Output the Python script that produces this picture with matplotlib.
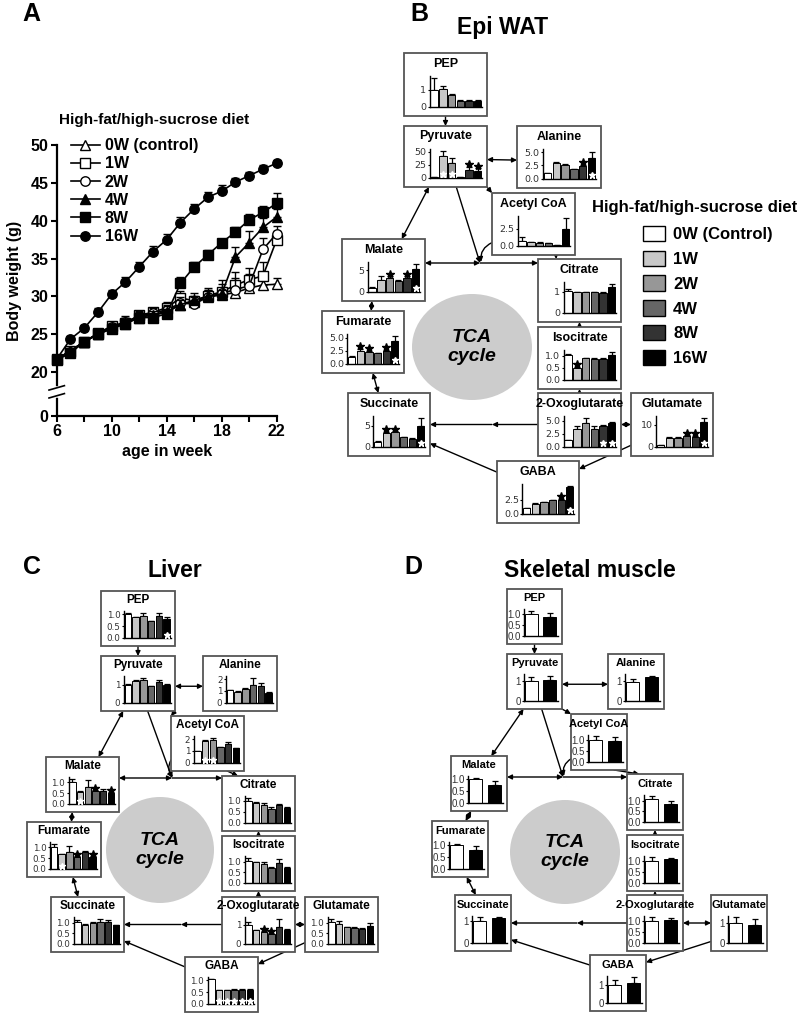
import numpy as np
import matplotlib.pyplot as plt
from matplotlib.patches import Rectangle, Ellipse, FancyArrowPatch, Patch

plt.rcParams['font.family'] = ['Liberation Sans', 'DejaVu Sans']

# ---------------- Panel A: body weight ----------------
weeks = [6, 7, 8, 9, 10, 11, 12, 13, 14, 15, 16, 17, 18, 19, 20, 21, 22]
group_labels = ['0W (control)', '1W', '2W', '4W', '8W', '16W']

bw_0w = [21.7, 22.8, 24.0, 25.0, 25.8, 26.4, 27.2, 27.6, 28.0, 28.9, 29.3, 29.9, 30.2, 30.5, 31.1, 31.5, 31.6]
bw_1w = [21.7, 22.8, 24.0, 25.1, 26.1, 26.5, 27.5, 27.9, 28.5, 29.8, 29.4, 30.1, 30.6, 31.5, 32.2, 32.7, 37.5]
bw_2w = [21.7, 22.7, 24.0, 25.1, 26.0, 26.6, 27.4, 27.8, 28.2, 29.1, 29.0, 29.9, 30.4, 30.9, 31.4, 36.2, 38.3]
bw_4w = [21.7, 22.8, 24.0, 25.0, 25.9, 26.6, 27.3, 27.5, 27.9, 28.9, 29.5, 30.0, 30.3, 35.2, 37.1, 39.1, 40.5]
bw_8w = [21.6, 22.5, 24.0, 25.0, 25.7, 26.4, 27.2, 27.2, 27.7, 31.7, 33.9, 35.5, 37.1, 38.5, 40.1, 41.1, 42.3]
bw_16w = [21.7, 24.35, 25.8, 27.9, 30.3, 31.9, 33.9, 35.9, 37.5, 39.75, 41.55, 43.1, 43.9, 45.1, 45.95, 46.8, 47.6]

err_0w = [0.3, 0.4, 0.4, 0.4, 0.5, 0.5, 0.5, 0.6, 0.6, 0.6, 0.6, 0.6, 0.6, 0.6, 0.7, 0.7, 0.8]
err_1w = [0.3, 0.4, 0.4, 0.5, 0.5, 0.6, 0.6, 0.6, 0.8, 0.9, 1.0, 1.0, 1.5, 1.7, 1.6, 1.8, 1.2]
err_2w = [0.3, 0.4, 0.4, 0.4, 0.5, 0.5, 0.6, 0.6, 0.7, 0.8, 0.9, 1.0, 1.2, 1.5, 1.5, 1.5, 1.0]
err_4w = [0.3, 0.4, 0.4, 0.4, 0.5, 0.8, 0.6, 0.6, 0.8, 0.6, 0.6, 0.8, 0.6, 1.3, 1.5, 1.2, 1.0]
err_8w = [0.3, 0.3, 0.4, 0.4, 0.4, 0.5, 0.5, 0.5, 0.6, 0.8, 0.6, 0.6, 0.5, 0.6, 0.8, 0.9, 1.3]
err_16w = [0.3, 0.4, 0.4, 0.5, 0.5, 0.6, 0.7, 0.7, 0.7, 0.8, 0.7, 0.7, 0.8, 0.6, 0.5, 0.5, 0.4]

# ---------------- Panels B-D: metabolites ----------------
METS = ['PEP', 'Pyruvate', 'Alanine', 'Acetyl CoA', 'Malate', 'Citrate', 'Fumarate',
        'Isocitrate', 'Succinate', '2-Oxoglutarate', 'Glutamate', 'GABA']
diet_labels = ['0W (Control)', '1W', '2W', '4W', '8W', '16W']

# Epi WAT (6 groups)
WAT_MEAN = {
    'PEP': [1.0, 1.05, 0.7, 0.35, 0.35, 0.35],
    'Pyruvate': [1, 41, 29, 2, 15, 14],
    'Alanine': [1.0, 3.0, 2.6, 1.8, 2.4, 3.9],
    'Acetyl CoA': [0.75, 0.5, 0.45, 0.4, 0.1, 2.5],
    'Malate': [0.8, 2.8, 3.3, 2.6, 3.3, 5.4],
    'Citrate': [1.05, 0.97, 0.98, 0.97, 0.95, 1.22],
    'Fumarate': [1.3, 2.5, 2.3, 2.0, 2.5, 4.4],
    'Isocitrate': [1.05, 0.5, 0.9, 0.87, 0.88, 1.05],
    'Succinate': [1.2, 3.2, 3.4, 2.3, 1.9, 5.0],
    '2-Oxoglutarate': [1.2, 3.4, 4.5, 3.4, 4.0, 4.5],
    'Glutamate': [0.8, 4.0, 4.0, 4.8, 4.4, 11.4],
    'GABA': [1.0, 1.8, 2.1, 2.4, 2.5, 4.9],
}
WAT_ERR = {
    'PEP': [0.7, 0.15, 0.05, 0.03, 0.03, 0.03],
    'Pyruvate': [0.5, 10, 9, 0.5, 6, 4],
    'Alanine': [0.1, 0.15, 0.1, 0.05, 0.2, 1.1],
    'Acetyl CoA': [0.5, 0.1, 0.1, 0.05, 0.02, 1.6],
    'Malate': [0.4, 0.8, 0.3, 0.2, 0.3, 1.2],
    'Citrate': [0.06, 0.03, 0.03, 0.03, 0.03, 0.15],
    'Fumarate': [0.1, 0.3, 0.15, 0.1, 0.15, 1.0],
    'Isocitrate': [0.05, 0.05, 0.03, 0.03, 0.03, 0.13],
    'Succinate': [0.1, 0.3, 0.3, 0.1, 0.1, 1.9],
    '2-Oxoglutarate': [0.1, 0.6, 1.0, 0.5, 0.2, 0.2],
    'Glutamate': [0.1, 0.4, 0.4, 0.4, 0.4, 1.8],
    'GABA': [0.1, 0.15, 0.1, 0.1, 0.2, 0.2],
}
WAT_TICKS = {
    'PEP': [0, 1], 'Pyruvate': [0, 25, 50], 'Alanine': [0, 2.5, 5], 'Acetyl CoA': [0, 2.5],
    'Malate': [0, 5], 'Citrate': [0, 1], 'Fumarate': [0, 2.5, 5], 'Isocitrate': [0, 0.5, 1],
    'Succinate': [0, 5], '2-Oxoglutarate': [0, 2.5, 5], 'Glutamate': [0, 10], 'GABA': [0, 2.5],
}
WAT_STAR = {'Pyruvate': [4, 5], 'Alanine': [4], 'Malate': [2, 4], 'Fumarate': [1, 2, 4],
            'Isocitrate': [1], 'Succinate': [1, 2], 'Glutamate': [3, 4], 'GABA': [4]}
WAT_WSTAR = {'Pyruvate': [1, 2], 'Alanine': [5], 'Malate': [5], 'Fumarate': [5], 'Succinate': [5],
             '2-Oxoglutarate': [4, 5], 'Glutamate': [5], 'GABA': [5]}

# Liver (6 groups)
LIV_MEAN = {
    'PEP': [1.0, 0.88, 0.95, 0.7, 0.95, 0.82],
    'Pyruvate': [0.95, 1.2, 1.27, 0.9, 1.13, 0.98],
    'Alanine': [1.05, 0.95, 1.15, 1.5, 1.45, 0.85],
    'Acetyl CoA': [1.0, 1.85, 1.9, 1.3, 1.55, 1.25],
    'Malate': [1.02, 0.55, 0.8, 0.6, 0.62, 0.5],
    'Citrate': [1.0, 0.9, 0.82, 0.65, 0.8, 0.68],
    'Fumarate': [1.02, 0.68, 0.8, 0.55, 0.78, 0.55],
    'Isocitrate': [1.03, 0.97, 0.88, 0.7, 0.92, 0.72],
    'Succinate': [1.05, 0.9, 1.0, 1.05, 1.05, 0.88],
    '2-Oxoglutarate': [1.0, 0.7, 0.61, 0.53, 0.88, 0.7],
    'Glutamate': [1.03, 0.95, 0.79, 0.75, 0.71, 0.87],
    'GABA': [1.04, 0.57, 0.57, 0.58, 0.58, 0.6],
}
LIV_ERR = {
    'PEP': [0.05, 0.03, 0.12, 0.03, 0.12, 0.05],
    'Pyruvate': [0.1, 0.05, 0.1, 0.03, 0.1, 0.03],
    'Alanine': [0.05, 0.03, 0.12, 0.6, 0.25, 0.03],
    'Acetyl CoA': [0.03, 0.05, 0.2, 0.05, 0.25, 0.03],
    'Malate': [0.15, 0.05, 0.3, 0.05, 0.05, 0.05],
    'Citrate': [0.14, 0.03, 0.1, 0.05, 0.08, 0.02],
    'Fumarate': [0.15, 0.03, 0.25, 0.05, 0.05, 0.05],
    'Isocitrate': [0.15, 0.02, 0.08, 0.04, 0.2, 0.02],
    'Succinate': [0.1, 0.03, 0.05, 0.15, 0.08, 0.02],
    '2-Oxoglutarate': [0.14, 0.03, 0.05, 0.03, 0.42, 0.05],
    'Glutamate': [0.16, 0.13, 0.03, 0.03, 0.03, 0.12],
    'GABA': [0.02, 0.03, 0.03, 0.03, 0.03, 0.04],
}
LIV_TICKS = {
    'PEP': [0, 0.5, 1], 'Pyruvate': [0, 1], 'Alanine': [0, 1, 2], 'Acetyl CoA': [0, 1, 2],
    'Malate': [0, 0.5, 1], 'Citrate': [0, 0.5, 1], 'Fumarate': [0, 0.5, 1], 'Isocitrate': [0, 0.5, 1],
    'Succinate': [0, 0.5, 1], '2-Oxoglutarate': [0, 1], 'Glutamate': [0, 0.5, 1], 'GABA': [0, 0.5, 1],
}
LIV_STAR = {'Malate': [3, 5], 'Fumarate': [3, 5], '2-Oxoglutarate': [2, 3]}
LIV_WSTAR = {'PEP': [5], 'Acetyl CoA': [1, 2], 'Malate': [1], 'Fumarate': [1], 'GABA': [1, 2, 3, 4, 5]}

# Skeletal muscle (0W vs 16W)
MUS_MEAN = {
    'PEP': [1.0, 0.9], 'Pyruvate': [1.0, 1.05], 'Alanine': [0.97, 1.22], 'Acetyl CoA': [1.0, 0.95],
    'Malate': [1.02, 0.75], 'Citrate': [1.07, 0.87], 'Fumarate': [1.0, 0.76], 'Isocitrate': [1.0, 1.05],
    'Succinate': [1.0, 1.15], '2-Oxoglutarate': [1.0, 1.03], 'Glutamate': [0.97, 0.88], 'GABA': [1.0, 1.15],
}
MUS_ERR = {
    'PEP': [0.17, 0.15], 'Pyruvate': [0.18, 0.2], 'Alanine': [0.12, 0.05], 'Acetyl CoA': [0.16, 0.18],
    'Malate': [0.02, 0.16], 'Citrate': [0.15, 0.1], 'Fumarate': [0.03, 0.17], 'Isocitrate': [0.15, 0.08],
    'Succinate': [0.2, 0.05], '2-Oxoglutarate': [0.17, 0.12], 'Glutamate': [0.3, 0.3], 'GABA': [0.33, 0.32],
}
MUS_TICKS = {
    'PEP': [0, 0.5, 1], 'Pyruvate': [0, 1], 'Alanine': [0, 1], 'Acetyl CoA': [0, 0.5, 1],
    'Malate': [0, 0.5, 1], 'Citrate': [0, 0.5, 1], 'Fumarate': [0, 0.5, 1], 'Isocitrate': [0, 0.5, 1],
    'Succinate': [0, 1], '2-Oxoglutarate': [0, 0.5, 1], 'Glutamate': [0, 1], 'GABA': [0, 1],
}

GRAYS6 = ['white', '#c8c8c8', '#979797', '#666666', '#333333', 'black']
GRAYS2 = ['white', 'black']

# ---------------- layout (pixel boxes) ----------------
W, H = 800, 1013
BOX_B = {
    'PEP': (404, 53, 487, 116), 'Pyruvate': (404, 126, 487, 187), 'Alanine': (517, 126, 601, 188),
    'Acetyl CoA': (492, 193, 575, 255), 'Malate': (342, 239, 425, 301), 'Citrate': (538, 259, 621, 322),
    'Fumarate': (322, 311, 404, 373), 'Isocitrate': (538, 327, 621, 389), 'Succinate': (348, 393, 430, 456),
    '2-Oxoglutarate': (538, 393, 621, 456), 'Glutamate': (631, 393, 713, 456), 'GABA': (497, 461, 579, 523),
}
BOX_C = {
    'PEP': (101, 591, 175, 646), 'Pyruvate': (101, 656, 175, 711), 'Alanine': (203, 656, 277, 711),
    'Acetyl CoA': (171, 716, 244, 771), 'Malate': (46, 757, 119, 812), 'Citrate': (222, 776, 295, 831),
    'Fumarate': (27, 822, 101, 877), 'Isocitrate': (222, 836, 295, 891), 'Succinate': (51, 897, 124, 952),
    '2-Oxoglutarate': (222, 897, 295, 952), 'Glutamate': (305, 897, 378, 952), 'GABA': (185, 957, 258, 1012),
}
BOX_D = {
    'PEP': (507, 589, 562, 644), 'Pyruvate': (507, 654, 562, 709), 'Alanine': (608, 654, 664, 709),
    'Acetyl CoA': (571, 714, 627, 770), 'Malate': (451, 756, 507, 811), 'Citrate': (627, 774, 683, 830),
    'Fumarate': (432, 821, 488, 877), 'Isocitrate': (627, 835, 683, 891), 'Succinate': (455, 895, 511, 951),
    '2-Oxoglutarate': (627, 895, 683, 951), 'Glutamate': (711, 895, 767, 951), 'GABA': (590, 955, 646, 1011),
}

# arrows between boxes: (from, fx, fy, to, fx, fy, double-headed)
LINKS = [
    ('PEP', .5, 1, 'Pyruvate', .5, 0, False),
    ('Pyruvate', 1, .55, 'Alanine', 0, .55, True),
    ('Pyruvate', 1, 1, 'Acetyl CoA', 0, 0, False),
    ('Pyruvate', .3, 1, 'Malate', .72, 0, True),
    ('Malate', .36, 1, 'Fumarate', .6, 0, True),
    ('Fumarate', .62, 1, 'Succinate', .37, 0, True),
    ('Acetyl CoA', .77, 1, 'Citrate', .22, 0, False),
    ('Isocitrate', .5, 0, 'Citrate', .5, 1, False),
    ('2-Oxoglutarate', .5, 0, 'Isocitrate', .5, 1, False),
    ('Glutamate', 0, .5, '2-Oxoglutarate', 1, .5, True),
    ('Glutamate', 0, .83, 'GABA', 1, .13, False),
    ('GABA', 0, .18, 'Succinate', 1, .8, False),
]

fig = plt.figure(figsize=(W / 100, H / 100), dpi=100)


def px(x0, y0, x1, y1):
    return [x0 / W, 1 - y1 / H, (x1 - x0) / W, (y1 - y0) / H]


ov = fig.add_axes([0, 0, 1, 1])
ov.set_xlim(0, W)
ov.set_ylim(H, 0)
ov.axis('off')

# ---------------- Panel A ----------------
axA = fig.add_axes(px(56.7, 145, 276.7, 416))


def fwd(y):
    y = np.asarray(y, float)
    return np.where(y >= 20, y, 14.19 + y * 0.2905)


def inv(z):
    z = np.asarray(z, float)
    return np.where(z >= 20, z, (z - 14.19) / 0.2905)


axA.set_yscale('function', functions=(fwd, inv))
series = [bw_0w, bw_1w, bw_2w, bw_4w, bw_8w, bw_16w]
errors = [err_0w, err_1w, err_2w, err_4w, err_8w, err_16w]
markers = [('^', 'white'), ('s', 'white'), ('o', 'white'), ('^', 'black'), ('s', 'black'), ('o', 'black')]
for lab, y, e, (m, fc) in zip(group_labels, series, errors, markers):
    axA.errorbar(weeks, y, yerr=[np.zeros(len(e)), e], fmt='none', ecolor='black',
                 elinewidth=1, capsize=3, capthick=1, clip_on=False)
    axA.plot(weeks, y, color='black', lw=1.2, marker=m, mfc=fc, mec='black', ms=6.8, mew=1,
             label=lab, clip_on=False)

axA.set_xlim(6, 22)
axA.set_ylim(0, 50)
axA.set_yticks([0, 20, 25, 30, 35, 40, 45, 50])
axA.set_yticklabels(['0', '20', '25', '30', '35', '40', '45', '50'])
axA.set_xticks([6, 10, 14, 18, 22])
axA.set_xticks([8, 12, 16, 20], minor=True)
axA.yaxis.set_minor_locator(plt.NullLocator())
for s in ['top', 'right']:
    axA.spines[s].set_visible(False)
for s in ['left', 'bottom']:
    axA.spines[s].set_linewidth(1.6)
axA.tick_params(which='both', direction='out', length=4, width=1.5, labelsize=11.5, pad=2)
for lbl in axA.get_xticklabels() + axA.get_yticklabels():
    lbl.set_fontweight('bold')
axA.set_xlabel('age in week', fontsize=11.5, fontweight='bold', labelpad=3)
axA.set_ylabel('Body weight (g)', fontsize=11.5, fontweight='bold', labelpad=6)
# axis break
tr = axA.get_yaxis_transform()
axA.plot([0, 0], [9.6, 12.4], transform=tr, color='white', lw=4, clip_on=False, zorder=5)
axA.plot([-0.035, 0.035], [8.2, 10.2], transform=tr, color='black', lw=1.2, clip_on=False, zorder=6)
axA.plot([-0.035, 0.035], [11.8, 13.8], transform=tr, color='black', lw=1.2, clip_on=False, zorder=6)
axA.legend(loc='upper left', bbox_to_anchor=(0.065, 1.025), frameon=False,
           prop=dict(weight='bold', size=11.5), handlelength=1.8, handletextpad=0.3,
           labelspacing=0.2, borderaxespad=0, borderpad=0)
ov.text(154, 120, 'High-fat/high-sucrose diet', ha='center', va='center', fontsize=11, fontweight='bold')


# ---------------- pathway panels ----------------
def anchor(box, fx, fy):
    x0, y0, x1, y1 = box
    return (x0 + fx * (x1 - x0), y0 + fy * (y1 - y0))


def arrow(p, q, both=False, rad=0.0):
    ov.add_patch(FancyArrowPatch(p, q, arrowstyle='<|-|>' if both else '-|>', mutation_scale=7,
                                 lw=1.0, color='black', shrinkA=0, shrinkB=0, zorder=2,
                                 connectionstyle=f'arc3,rad={rad}'))


def fmt_tick(t, ticks):
    if any(float(v) != int(v) for v in ticks):
        return f'{t:.1f}'
    return f'{int(t)}'


def draw_panel(boxes, junction, ell, means, errs, ticks, stars, wstars, colors,
               bar_w, xlim, title_fs, tick_font, tick_fs, right):
    jx, jy = junction
    for a, fx1, fy1, b, fx2, fy2, both in LINKS:
        arrow(anchor(boxes[a], fx1, fy1), anchor(boxes[b], fx2, fy2), both)
    arrow(anchor(boxes['Pyruvate'], .63, 1), (jx, jy))
    arrow(anchor(boxes['Acetyl CoA'], 0, .8), (jx + 1, jy - 1), rad=0.35)
    arrow((boxes['Malate'][2], jy), (jx, jy), True)
    arrow((jx, jy), (boxes['Citrate'][0], jy))
    p = anchor(boxes['2-Oxoglutarate'], 0, .5)
    q = anchor(boxes['Succinate'], 1, .5)
    mid = ((p[0] + q[0]) / 2 + 8, p[1])
    arrow(p, mid)
    arrow(mid, q)

    cx, cy, rx, ry = ell
    ov.add_patch(Ellipse((cx, cy), 2 * rx, 2 * ry, facecolor='#cccccc', edgecolor='none', zorder=1))
    ov.text(cx, cy, 'TCA\ncycle', ha='center', va='center', fontsize=14, fontweight='bold',
            fontstyle='italic', linespacing=1.2, zorder=2)

    for name in METS:
        x0, y0, x1, y1 = boxes[name]
        w, h = x1 - x0, y1 - y0
        ov.add_patch(Rectangle((x0, y0), w, h, facecolor='white', edgecolor='#555555', lw=1.3, zorder=3))
        ov.text(x0 + w / 2, y0 + 0.17 * h, name, ha='center', va='center', fontsize=title_fs,
                fontweight='bold', zorder=4)
        m = np.array(means[name], float)
        e = np.array(errs[name], float)
        tk = ticks[name]
        top = max(tk[-1] * 1.12, (m + e).max() * 1.06)
        ax = fig.add_axes(px(x0 + 0.31 * w, y0 + 0.37 * h, x0 + right * w, y0 + 0.85 * h))
        ax.patch.set_visible(False)
        xs = np.arange(len(m))
        ax.errorbar(xs, m, yerr=[np.zeros(len(e)), e], fmt='none', ecolor='black',
                    elinewidth=0.9, capsize=2.3, capthick=0.9, zorder=1)
        ax.bar(xs, m, width=bar_w, color=colors, edgecolor='black', linewidth=0.7, zorder=2)
        for i in stars.get(name, []):
            ax.plot(i, m[i] + e[i] + 0.09 * top, marker='*', color='black', ms=6, zorder=3, clip_on=False)
        for i in wstars.get(name, []):
            ax.plot(i, 0.12 * top, marker='*', color='white', ms=5, zorder=3)
        ax.set_xlim(*xlim)
        ax.set_ylim(0, top)
        ax.set_xticks([])
        ax.set_yticks(tk)
        ax.set_yticklabels([fmt_tick(t, tk) for t in tk], fontsize=tick_fs, family=tick_font, color='#333333')
        ax.tick_params(axis='y', length=1.5, width=0.8, pad=1)
        for s in ['top', 'right']:
            ax.spines[s].set_visible(False)
        ax.spines['left'].set_linewidth(1.0)
        ax.spines['bottom'].set_linewidth(1.0)


draw_panel(BOX_B, (480, 263), (472, 347, 60, 53), WAT_MEAN, WAT_ERR, WAT_TICKS, WAT_STAR, WAT_WSTAR,
           GRAYS6, 0.85, (-0.5, 5.5), 9, 'DejaVu Sans', 6.8, 0.94)
draw_panel(BOX_C, (172, 778), (160, 850, 54, 53), LIV_MEAN, LIV_ERR, LIV_TICKS, LIV_STAR, LIV_WSTAR,
           GRAYS6, 0.85, (-0.5, 5.5), 8.5, 'DejaVu Sans', 6.3, 0.94)
draw_panel(BOX_D, (563, 777), (565, 852, 55, 52), MUS_MEAN, MUS_ERR, MUS_TICKS, {}, {},
           GRAYS2, 0.7, (-0.4, 1.45), 8, 'Liberation Sans', 7, 0.93)

# panel titles and letters
ov.text(31, 14, 'A', ha='center', va='center', fontsize=18, fontweight='bold')
ov.text(419, 14, 'B', ha='center', va='center', fontsize=18, fontweight='bold')
ov.text(32, 567, 'C', ha='center', va='center', fontsize=18, fontweight='bold')
ov.text(413, 567, 'D', ha='center', va='center', fontsize=18, fontweight='bold')
ov.text(503, 27, 'Epi WAT', ha='center', va='center', fontsize=16.5, fontweight='bold')
ov.text(175, 570, 'Liver', ha='center', va='center', fontsize=16.5, fontweight='bold')
ov.text(590, 570, 'Skeletal muscle', ha='center', va='center', fontsize=16.5, fontweight='bold')

# diet legend for panel B
ov.text(592, 207, 'High-fat/high-sucrose diet', ha='left', va='center', fontsize=12, fontweight='bold')
handles = [Patch(facecolor=c, edgecolor='black', linewidth=1) for c in GRAYS6]
fig.legend(handles, diet_labels, loc='upper left', bbox_to_anchor=(643 / W, 1 - 226 / H),
           frameon=False, prop=dict(weight='bold', size=12), handlelength=1.3, handleheight=1.05,
           handletextpad=0.5, labelspacing=0.5, borderaxespad=0, borderpad=0)

fig.savefig('out.png', dpi=100)
